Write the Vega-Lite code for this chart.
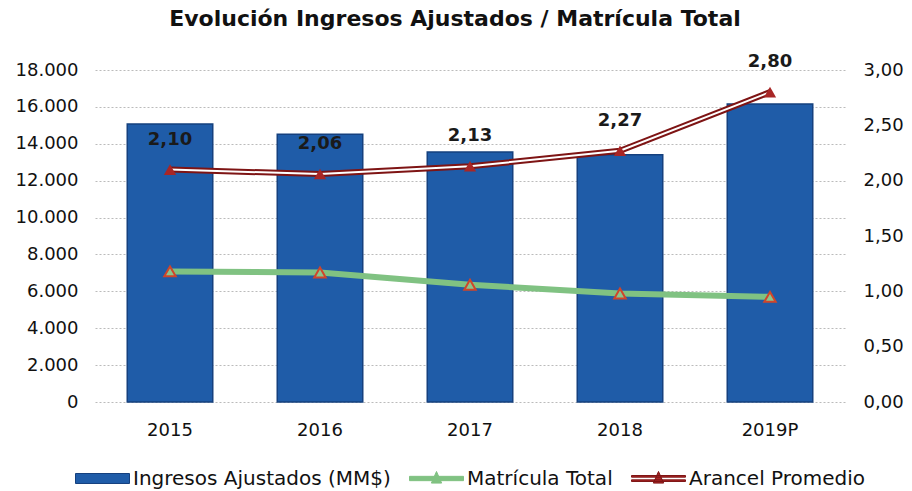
{
  "$schema": "https://vega.github.io/schema/vega-lite/v6.json",
  "width": 750,
  "height": 332,
  "autosize": {"type": "none"},
  "padding": {"left": 95, "top": 70, "right": 67, "bottom": 89},
  "background": "white",
  "config": {
    "locale": {"number": {"decimal": ",", "thousands": ".", "grouping": [3], "currency": ["$", ""]}},
    "font": "DejaVu Sans",
    "view": {"stroke": null},
    "axis": {"labelFont": "DejaVu Sans", "labelFontSize": 18, "labelColor": "#111", "domain": false, "ticks": false, "title": null},
    "axisX": {"grid": false},
    "axisRight": {"grid": false},
    "legend": {
      "orient": "bottom", "title": null, "labelFontSize": 20, "labelFont": "DejaVu Sans", "labelColor": "#111",
      "symbolSize": 2916, "labelOffset": 3, "labelLimit": 400, "offset": 12, "symbolOpacity": 1,
      "layout": {"bottom": {"anchor": "middle", "direction": "horizontal", "margin": 18}}
    }
  },
  "title": {"text": "Evolución Ingresos Ajustados / Matrícula Total", "fontSize": 22, "font": "DejaVu Sans", "fontWeight": "bold", "color": "#111", "dx": -15, "offset": 22},
  "data": {"values": [
    {"anio": "2015", "ingresos": 15070, "matricula": 1.18, "arancel": 2.10},
    {"anio": "2016", "ingresos": 14520, "matricula": 1.17, "arancel": 2.06},
    {"anio": "2017", "ingresos": 13560, "matricula": 1.06, "arancel": 2.13},
    {"anio": "2018", "ingresos": 13400, "matricula": 0.98, "arancel": 2.27},
    {"anio": "2019P", "ingresos": 16150, "matricula": 0.95, "arancel": 2.80}
  ]},
  "layer": [
    {
      "mark": {"type": "bar", "stroke": "#15407e", "strokeWidth": 1.5},
      "encoding": {
        "x": {"field": "anio", "type": "nominal", "sort": null, "scale": {"paddingInner": 0.43}, "axis": {"labelAngle": 0, "labelPadding": 19}},
        "y": {"field": "ingresos", "type": "quantitative", "scale": {"domain": [0, 18000]}, "axis": {"format": ",d", "values": [0, 2000, 4000, 6000, 8000, 10000, 12000, 14000, 16000, 18000], "grid": true, "gridDash": [2, 2], "gridColor": "#bbbbbb", "labelPadding": 17}},
        "color": {
          "datum": "Ingresos Ajustados (MM$)",
          "scale": {"range": ["#1f5ca8"]},
          "legend": {"symbolType": "M-1,-0.185H1V0.185H-1Z", "symbolStrokeColor": "#15407e", "symbolStrokeWidth": 1}
        }
      }
    },
    {
      "layer": [
        {
          "mark": {"type": "line", "strokeWidth": 6},
          "encoding": {
            "x": {"field": "anio", "type": "nominal", "sort": null},
            "y": {"field": "matricula", "type": "quantitative", "scale": {"domain": [0, 3]}, "axis": {"format": ".2f", "values": [0, 0.5, 1, 1.5, 2, 2.5, 3], "labelPadding": 18}},
            "stroke": {
              "datum": "Matrícula Total",
              "scale": {"range": ["#80c282"]},
              "legend": {"symbolType": "M-1,-0.08H1V0.08H-1Z M0,-0.26L0.19,0.17H-0.19Z", "symbolStrokeWidth": 1, "symbolFillColor": "#80c282"}
            }
          }
        },
        {
          "mark": {"type": "point", "shape": "triangle-up", "filled": true, "size": 130, "fill": "#8cc48c", "stroke": "#d0452a", "strokeWidth": 2, "opacity": 1},
          "encoding": {
            "x": {"field": "anio", "type": "nominal", "sort": null},
            "y": {"field": "matricula", "type": "quantitative"}
          }
        },
        {
          "mark": {"type": "line", "strokeWidth": 6, "color": "#7e1414"},
          "encoding": {
            "x": {"field": "anio", "type": "nominal", "sort": null},
            "y": {"field": "arancel", "type": "quantitative"}
          }
        },
        {
          "mark": {"type": "line", "strokeWidth": 2, "color": "white"},
          "encoding": {
            "x": {"field": "anio", "type": "nominal", "sort": null},
            "y": {"field": "arancel", "type": "quantitative"}
          }
        },
        {
          "mark": {"type": "point", "shape": "triangle-up", "filled": true, "size": 150, "opacity": 1},
          "encoding": {
            "x": {"field": "anio", "type": "nominal", "sort": null},
            "y": {"field": "arancel", "type": "quantitative"},
            "fill": {
              "datum": "Arancel Promedio",
              "scale": {"range": ["#a82626"]},
              "legend": {"symbolType": "M-1,-0.11H1V-0.05H-1Z M-1,0.05H1V0.11H-1Z M0,-0.26L0.19,0.17H-0.19Z", "symbolStrokeColor": "#7e1414", "symbolStrokeWidth": 1}
            }
          }
        },
        {
          "mark": {"type": "text", "dy": -30, "fontSize": 18, "fontWeight": "bold", "color": "#1a1a1a", "font": "DejaVu Sans"},
          "encoding": {
            "x": {"field": "anio", "type": "nominal", "sort": null},
            "y": {"field": "arancel", "type": "quantitative"},
            "text": {"field": "arancel", "type": "quantitative", "format": ".2f"}
          }
        }
      ]
    }
  ],
  "resolve": {"scale": {"y": "independent"}}
}
